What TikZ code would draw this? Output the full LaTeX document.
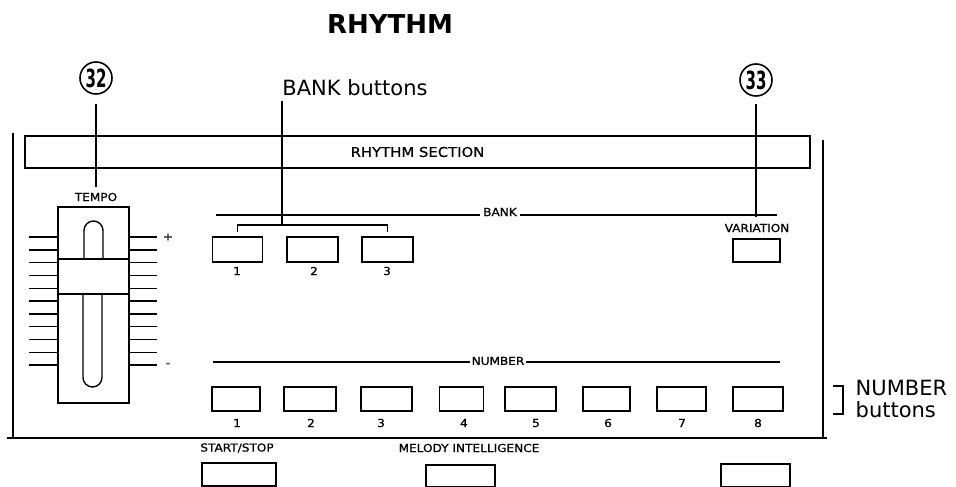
\documentclass[tikz,border=0pt]{standalone}
\usepackage{fontspec}
\setmainfont{DejaVu Sans}
\newfontfamily\panelfont[FakeStretch=1.1, FakeBold=0.8]{DejaVu Sans}
\newfontfamily\calloutfont[FakeStretch=0.6]{DejaVu Sans}

\tikzset{
  btn/.style={draw, minimum width=49pt, minimum height=24pt, inner sep=0pt},
  tag/.style={font=\panelfont\fontsize{11}{12}\selectfont, inner sep=1pt},
  callout/.style={draw, circle, line width=1.6pt, minimum size=32pt, inner sep=0pt, font=\calloutfont\bfseries\fontsize{25}{25}\selectfont},
  bigtext/.style={font=\fontsize{21}{22}\selectfont, align=left, inner sep=0pt},
  leader/.style={line width=1.9pt},
}

\begin{document}
\begin{tikzpicture}[x=1pt, y=-1pt, line width=1.4pt]
  \useasboundingbox (0,0) rectangle (956,487);

  % titles and callouts
  \node[font=\bfseries\fontsize{26}{28}\selectfont, inner sep=0pt] (title) at (390,24) {RHYTHM};
  \node[bigtext] (bankcall) at (355,88) {BANK buttons};
  \node[bigtext, anchor=west] (numcall) at (855,399) {NUMBER\\buttons};
  \node[callout] (c32) at (96,78) {32};
  \node[callout] (c33) at (756,80) {33};

  % panel frame
  \draw (13,133) -- (13,438);
  \draw (7,438) -- (827,438);
  \draw (823,140) -- (823,438);
  \node[draw, minimum width=785pt, minimum height=32pt, inner sep=0pt, font=\panelfont\fontsize{13.5}{14}\selectfont] (section) at (417.5,152) {RHYTHM SECTION};

  % tempo slider
  \node[tag] (tempo) at (96,197) {TEMPO};
  \node[draw, minimum width=71pt, minimum height=196pt, inner sep=0pt] (slider) at (93.5,305) {};
  \draw (58,259) -- (129,259);
  \draw (58,294) -- (129,294);
  \draw (84,259) -- (84,230.5) arc[start angle=180, end angle=360, radius=9.5] -- (103,259);
  \draw (83,294) -- (83,377.5) arc[start angle=180, end angle=0, radius=9.5] -- (102,294);
  \foreach \i in {0,...,10}{
    \draw (29,{237+12.8*\i}) -- (57,{237+12.8*\i});
    \draw (129,{237+12.8*\i}) -- (157,{237+12.8*\i});
  }
  \node[tag] (plus) at (168,237) {+};
  \node[tag] (minus) at (168,365) {-};

  % bank row
  \draw (216,215) -- (777,215);
  \node[tag, fill=white, inner xsep=3pt] (banktag) at (500,212) {BANK};
  \node[btn, minimum width=50pt, minimum height=25pt] (bk1) at (237.5,249.5) {};
  \node[btn, minimum width=51pt, minimum height=25pt] (bk2) at (312.5,249.5) {};
  \node[btn, minimum width=51pt, minimum height=25pt] (bk3) at (387.5,249.5) {};
  \node[tag] at (237,271) {1};
  \node[tag] at (314,271) {2};
  \node[tag] at (387,271) {3};
  \node[tag] (vartag) at (757,228) {VARIATION};
  \node[btn, minimum width=47pt, minimum height=23pt] (var) at (756.5,250.5) {};

  % number row
  \draw (213,362) -- (780,362);
  \node[tag, fill=white, inner xsep=2pt] (numtag) at (498,361) {NUMBER};
  \foreach \n/\x/\w/\t in {1/236/48/237, 2/310/52/311, 3/386.5/51/381, 4/461.5/44/464,
                           5/530.5/51/536, 6/606.5/47/608, 7/681.5/49/682, 8/758/50/758}{
    \node[btn, minimum width=\w pt] (num\n) at (\x,399) {};
    \node[tag] at (\t,423) {\n};
  }
  \draw (833,386) -- (843,386) -- (843,414) -- (833,414);

  % lower row
  \node[tag] (starttag) at (237,448) {START/STOP};
  \node[btn, minimum width=74pt, minimum height=23pt] (start) at (239,474.5) {};
  \node[tag] (melodytag) at (469,448) {MELODY INTELLIGENCE};
  \node[btn, minimum width=69pt, minimum height=22pt] (melody) at (460.5,476) {};
  \node[btn, minimum width=69pt, minimum height=23pt] (extra) at (755.5,475.5) {};

  % leaders
  \coordinate (brk) at (282,225);
  \draw[leader] ([yshift=-9pt]c32.south) -- ([yshift=4pt]tempo.north);
  \draw[leader] ([yshift=-7pt]c33.south) -- (c33 |- 0,217);
  \draw[leader] ([xshift=-73pt, yshift=-4pt]bankcall.south) -- (brk);
  \draw ([yshift=4pt]bk1.north) |- (brk) -| ([yshift=4pt]bk3.north);
\end{tikzpicture}
\end{document}
